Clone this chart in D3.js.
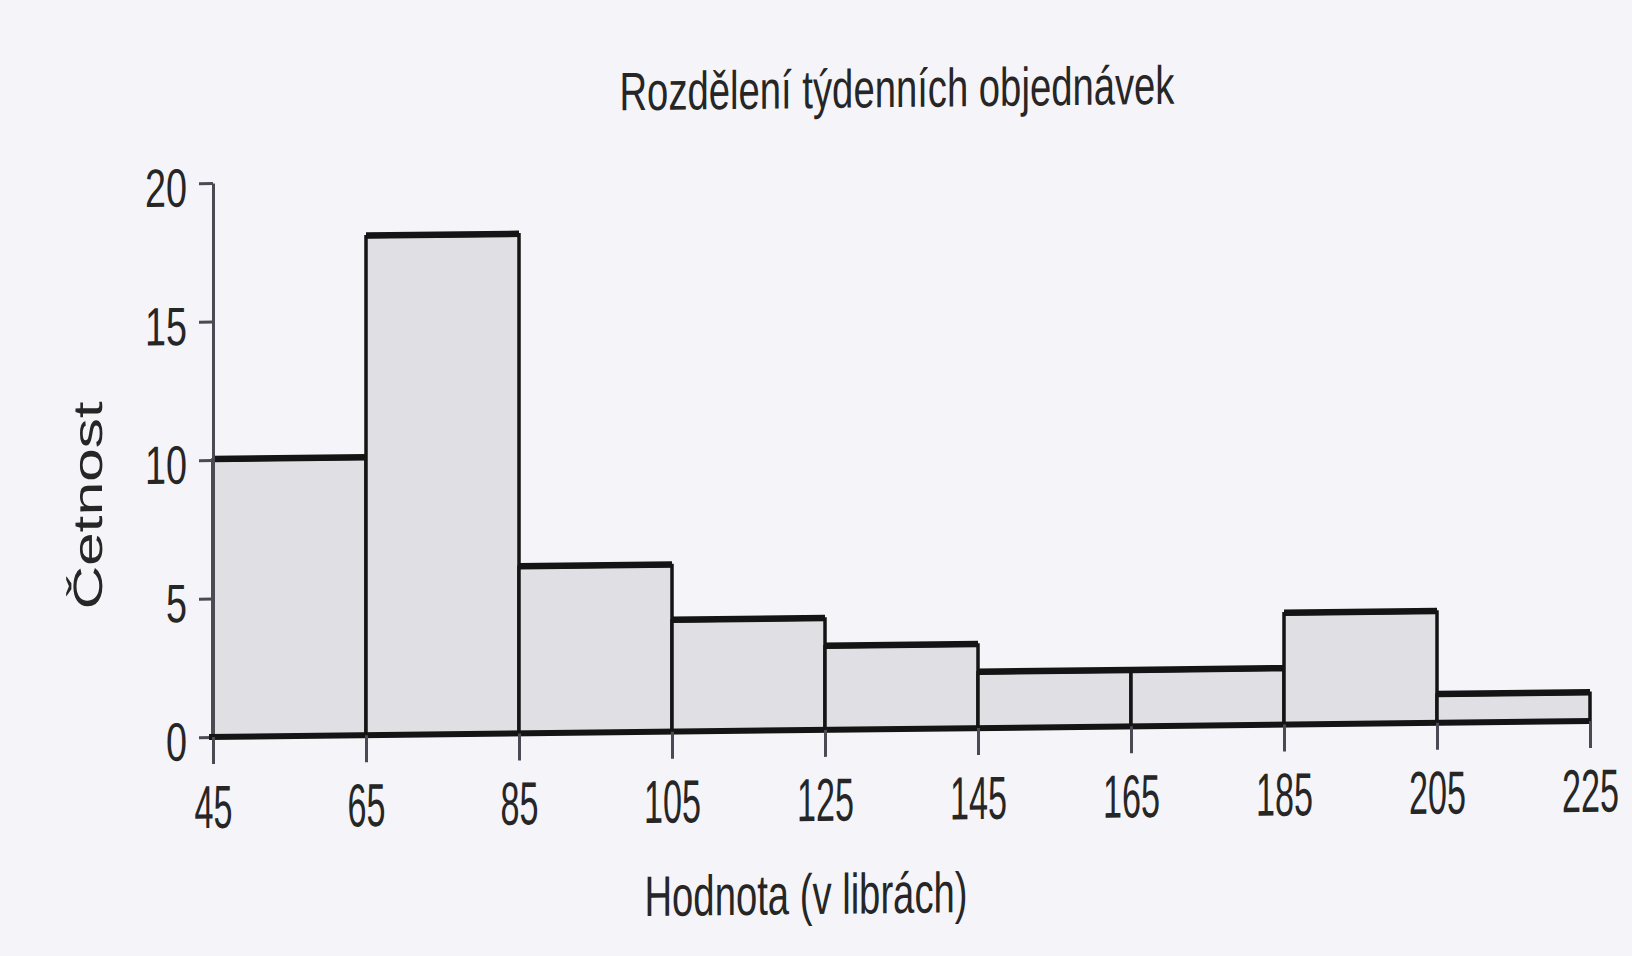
<!DOCTYPE html>
<html>
<head>
<meta charset="utf-8">
<script src="https://cdn.jsdelivr.net/npm/d3@7"></script>
<style>
  body { margin: 0; background: #f5f4f8; }
  svg { display: block; }
  text { fill: #262626; }
</style>
</head>
<body>
<div id="chart"></div>
<script>
// histogram data
var binEdges = [45, 65, 85, 105, 125, 145, 165, 185, 205, 225];
var counts = [10, 18, 6, 4, 3, 2, 2, 4, 1];
var yTicks = [0, 5, 10, 15, 20];

var titleText = "Rozdělení týdenních objednávek";
var xLabelText = "Hodnota (v librách)";
var yLabelText = "Četnost";

var svgWidth = 1632;
var svgHeight = 956;

var narrow = "'Liberation Sans Narrow', 'Arial Narrow', 'Liberation Sans', Arial, sans-serif";

var svg = d3.select("#chart")
  .append("svg")
  .attr("width", svgWidth)
  .attr("height", svgHeight);

// the scanned original is slightly tilted, skew the whole drawing to follow it
var chartGroup = svg.append("g")
  .attr("transform", "translate(213,0) skewY(-0.666) translate(-213,0)");

var bins = counts.map(function(c, i) {
  return { x0: binEdges[i], x1: binEdges[i + 1], count: c };
});

var xScale = d3.scaleLinear()
  .domain([45, 225])
  .range([213, 1590]);

var yScale = d3.scaleLinear()
  .domain([0, 20])
  .range([737, 183]);

// bars
chartGroup.selectAll(".bar")
  .data(bins)
  .enter()
  .append("rect")
  .attr("class", "bar")
  .attr("x", d => xScale(d.x0))
  .attr("y", d => yScale(d.count))
  .attr("width", d => xScale(d.x1) - xScale(d.x0))
  .attr("height", d => yScale(0) - yScale(d.count))
  .attr("fill", "#e0dfe4")
  .attr("stroke", "#141414")
  .attr("stroke-width", 3.5);

// thick top edges
chartGroup.selectAll(".bar-top")
  .data(bins)
  .enter()
  .append("line")
  .attr("class", "bar-top")
  .attr("x1", d => xScale(d.x0))
  .attr("x2", d => xScale(d.x1))
  .attr("y1", d => yScale(d.count) - 1)
  .attr("y2", d => yScale(d.count) - 1)
  .attr("stroke", "#141414")
  .attr("stroke-width", 6.5);

// y axis
var leftAxis = d3.axisLeft(yScale)
  .tickValues(yTicks)
  .tickSize(14)
  .tickPadding(12)
  .tickSizeOuter(0);

var yAxis = chartGroup.append("g")
  .attr("transform", "translate(" + xScale(45) + ",0)")
  .call(leftAxis);

yAxis.select(".domain")
  .attr("stroke", "#4a4a55")
  .attr("stroke-width", 3);
yAxis.selectAll(".tick line")
  .attr("stroke", "#4a4a55")
  .attr("stroke-width", 3);
yAxis.selectAll(".tick text")
  .attr("font-family", narrow)
  .attr("font-size", 54)
  .attr("dy", "0.42em")
  .attr("textLength", d => String(d).length * 21)
  .attr("lengthAdjust", "spacingAndGlyphs")
  .attr("fill", "#262626");

// baseline
chartGroup.append("line")
  .attr("x1", xScale(45) - 4)
  .attr("x2", xScale(225))
  .attr("y1", yScale(0))
  .attr("y2", yScale(0))
  .attr("stroke", "#141414")
  .attr("stroke-width", 6);

// x axis, labels are tall and narrow so stretch them vertically
var labelStretch = 1.45;
var bottomAxis = d3.axisBottom(xScale)
  .tickValues(binEdges)
  .tickSize(27)
  .tickPadding(18)
  .tickSizeOuter(0);

var xAxis = chartGroup.append("g")
  .attr("transform", "translate(0," + yScale(0) + ")")
  .call(bottomAxis);

xAxis.select(".domain").remove();
xAxis.selectAll(".tick line")
  .attr("stroke", "#4a4a55")
  .attr("stroke-width", 3);
xAxis.selectAll(".tick text")
  .attr("font-family", narrow)
  .attr("font-size", 42)
  .attr("y", 91 / labelStretch)
  .attr("dy", null)
  .attr("transform", "scale(1," + labelStretch + ")")
  .attr("textLength", d => String(d).length * 19)
  .attr("lengthAdjust", "spacingAndGlyphs")
  .attr("fill", "#262626");

// title
chartGroup.append("text")
  .attr("x", 897)
  .attr("y", 115)
  .attr("text-anchor", "middle")
  .attr("font-family", narrow)
  .attr("font-size", 54)
  .attr("textLength", 555)
  .attr("lengthAdjust", "spacingAndGlyphs")
  .text(titleText);

// x axis label
chartGroup.append("text")
  .attr("x", 806)
  .attr("y", 921)
  .attr("text-anchor", "middle")
  .attr("font-family", narrow)
  .attr("font-size", 57)
  .attr("textLength", 323)
  .attr("lengthAdjust", "spacingAndGlyphs")
  .text(xLabelText);

// y axis label
chartGroup.append("text")
  .attr("transform", "translate(102,504) rotate(-90)")
  .attr("text-anchor", "middle")
  .attr("font-family", "'Liberation Sans', Arial, sans-serif")
  .attr("font-size", 41)
  .attr("textLength", 208)
  .attr("lengthAdjust", "spacingAndGlyphs")
  .text(yLabelText);
</script>
</body>
</html>
